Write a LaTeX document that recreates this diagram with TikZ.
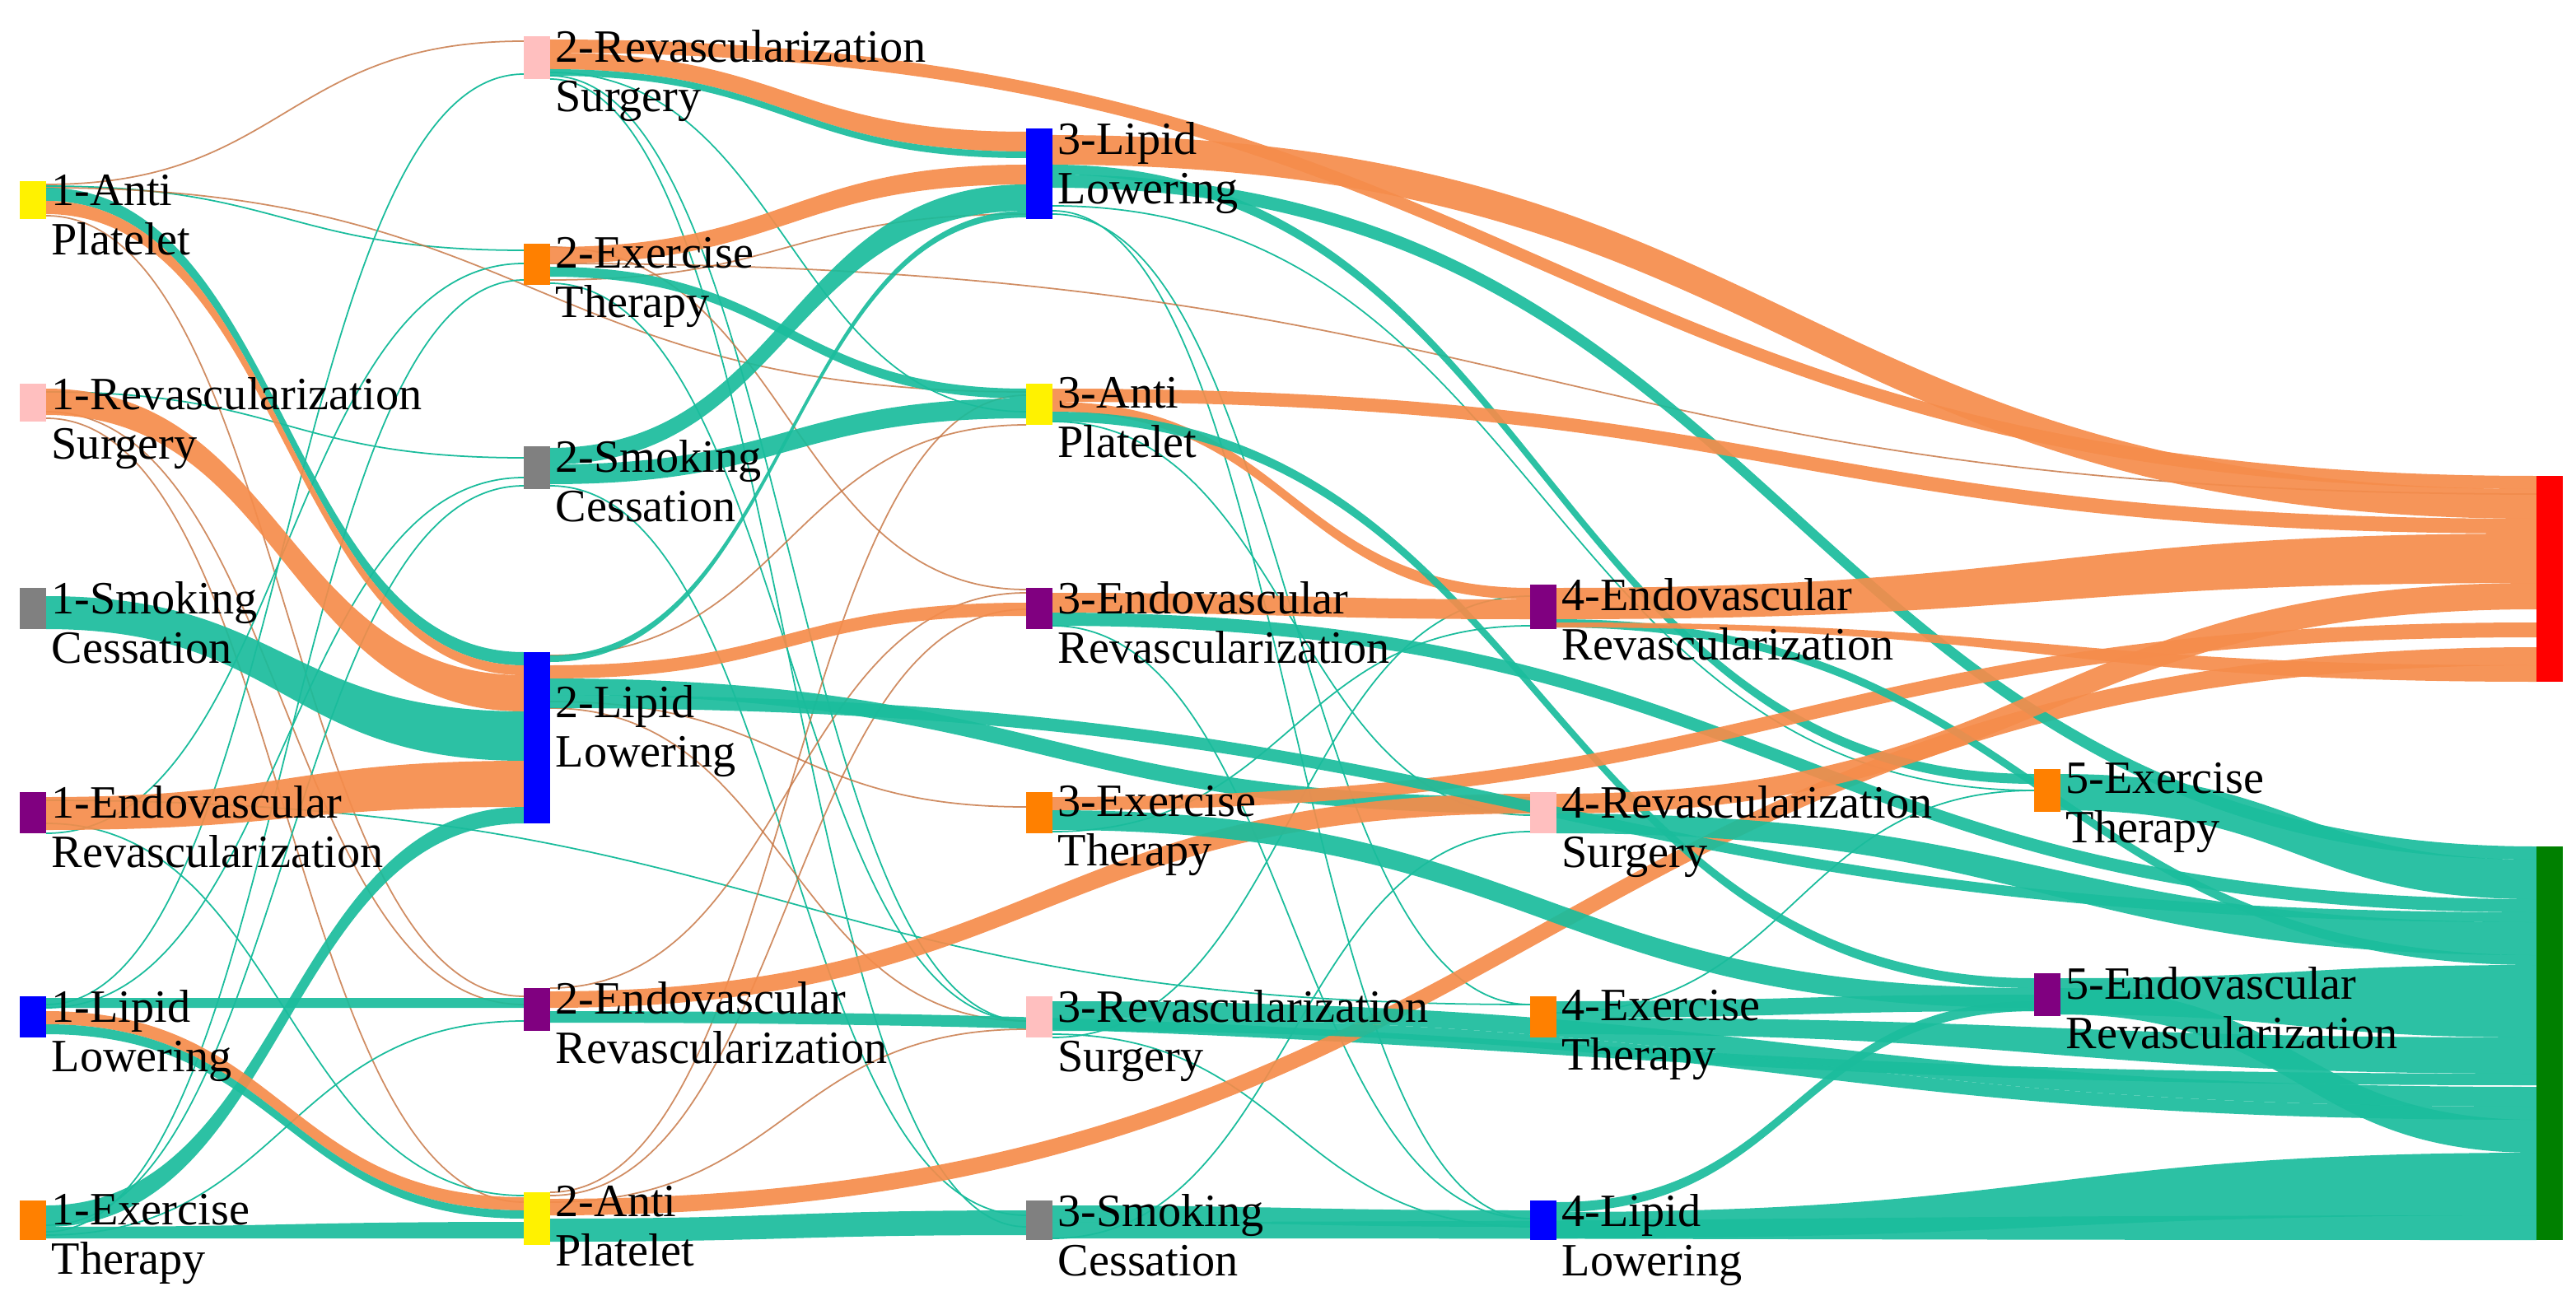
\documentclass[tikz,border=0pt]{standalone}
\usepackage{fontspec}
\setmainfont{Liberation Serif}
\begin{document}
\begin{tikzpicture}[x=0.02cm,y=-0.02cm]
\definecolor{orf}{RGB}{245,140,75}
\definecolor{tef}{RGB}{26,188,156}
\definecolor{grn}{RGB}{0,128,0}
\definecolor{pur}{RGB}{128,0,128}
\tikzset{box/.style={inner sep=0pt,outer sep=0pt,minimum width=0.32cm,anchor=north},
 lbl/.style={anchor=north west,align=left,inner sep=0pt,font=\fontsize{16}{17}\selectfont},
 of/.style={fill=orf,opacity=0.92}, tf/.style={fill=tef,opacity=0.92},
 ol/.style={draw=orf!80!black,line width=0.5pt,opacity=0.8}, tl/.style={draw=tef,line width=0.5pt}}
\newcommand\fl[7]{\pgfmathsetmacro\mx{(#1+#4)/2}\fill[#7] (#1,#2) .. controls (\mx,#2) and (\mx,#5) .. (#4,#5) -- (#4,#6) .. controls (\mx,#6) and (\mx,#3) .. (#1,#3) -- cycle;}
\newcommand\thinln[5]{\pgfmathsetmacro\mx{(#1+#3)/2}\draw[#5] (#1,#2) .. controls (\mx,#2) and (\mx,#4) .. (#3,#4);}
\newcommand\nd[5]{\node[box,fill=#5,minimum height={(#4-#3)*0.02cm}] (#1) at (#2,#3) {};}
\useasboundingbox (0,0) rectangle (1564,787);
% thin lines
\thinln{28}{112}{318}{25}{ol}
\thinln{28}{113}{318}{152}{tl}
\thinln{28}{114}{623}{238}{ol}
\thinln{28}{131}{318}{605}{ol}
\thinln{28}{238}{318}{278}{tl}
\thinln{28}{250}{318}{610}{ol}
\thinln{28}{254}{318}{730}{ol}
\thinln{28}{506}{318}{160}{tl}
\thinln{28}{500}{318}{726}{tl}
\thinln{28}{612}{318}{290}{tl}
\thinln{28}{610}{318}{45}{tl}
\thinln{28}{750}{318}{620}{tl}
\thinln{28}{748}{318}{170}{tl}
\thinln{28}{744}{318}{295}{tl}
\thinln{28}{486}{929}{610}{tl}
\thinln{334}{44}{623}{250}{tl}
\thinln{334}{46}{623}{620}{tl}
\thinln{334}{48}{623}{745}{tl}
\thinln{334}{170}{623}{130}{ol}
\thinln{334}{172}{623}{620}{tl}
\thinln{334}{295}{623}{738}{tl}
\thinln{334}{426}{623}{490}{ol}
\thinln{334}{430}{623}{620}{ol}
\thinln{334}{398}{623}{258}{ol}
\thinln{334}{600}{623}{360}{ol}
\thinln{334}{724}{623}{240}{ol}
\thinln{334}{726}{623}{370}{ol}
\thinln{334}{730}{623}{625}{ol}
\thinln{334}{150}{623}{358}{ol}
\thinln{639}{130}{929}{610}{tl}
\thinln{639}{128}{929}{740}{tl}
\thinln{639}{125}{1235}{480}{tl}
\thinln{639}{256}{929}{495}{tl}
\thinln{639}{505}{929}{380}{tl}
\thinln{639}{630}{929}{362}{tl}
\thinln{639}{628}{929}{745}{tl}
\thinln{639}{752}{929}{505}{tl}
\thinln{639}{380}{929}{740}{tl}
\thinln{334}{160}{1540}{300}{ol}
\thinln{945}{615}{1235}{480}{tl}
% column 1 flows
\fl{28}{114}{122}{318}{396}{404}{tf}
\fl{28}{122}{130}{318}{404}{410}{of}
\fl{28}{236}{252}{318}{410}{432}{of}
\fl{28}{362}{382}{318}{432}{462}{tf}
\fl{28}{484}{504}{318}{462}{490}{of}
\fl{28}{732}{745}{318}{490}{500}{tf}
\fl{28}{606}{612}{318}{606}{612}{tf}
\fl{28}{614}{622}{318}{727}{735}{of}
\fl{28}{622}{628}{318}{735}{740}{tf}
\fl{28}{745}{752}{318}{742}{752}{tf}
% column 2 flows
\fl{334}{24}{32}{1540}{289}{297}{of}
\fl{334}{32}{42}{623}{80}{92}{of}
\fl{334}{42}{46}{623}{92}{96}{tf}
\fl{334}{150}{160}{623}{100}{112}{of}
\fl{334}{162}{168}{623}{236}{242}{tf}
\fl{334}{272}{282}{623}{112}{128}{tf}
\fl{334}{282}{294}{623}{242}{254}{tf}
\fl{334}{398}{402}{623}{128}{132}{tf}
\fl{334}{404}{412}{623}{366}{374}{of}
\fl{334}{412}{422}{929}{484}{494}{tf}
\fl{334}{602}{612}{929}{482}{494}{of}
\fl{334}{614}{621}{1540}{652}{659}{tf}
\fl{334}{728}{738}{1540}{393}{404}{of}
\fl{334}{740}{754}{623}{735}{750}{tf}
% column 3 flows
\fl{639}{82}{100}{1540}{297}{315}{of}
\fl{639}{100}{106}{1235}{470}{476}{tf}
\fl{639}{106}{114}{1540}{514}{522}{tf}
\fl{639}{236}{244}{1540}{315}{324}{of}
\fl{639}{244}{250}{929}{357}{364}{of}
\fl{639}{250}{256}{1235}{594}{600}{tf}
\fl{639}{360}{372}{929}{364}{376}{of}
\fl{639}{372}{380}{1540}{546}{554}{tf}
\fl{639}{484}{492}{1540}{378}{387}{of}
\fl{639}{492}{504}{1235}{600}{612}{tf}
\fl{639}{608}{618}{1540}{660}{672}{tf}
\fl{639}{618}{626}{1540}{672}{680}{tf}
\fl{639}{732}{742}{929}{735}{745}{tf}
\fl{639}{742}{752}{1540}{738}{753}{tf}
% column 4 flows
\fl{945}{357}{376}{1540}{324}{354}{of}
\fl{945}{376}{381}{1540}{580}{586}{tf}
\fl{945}{482}{494}{1540}{354}{370}{of}
\fl{945}{494}{506}{1540}{560}{580}{tf}
\fl{945}{608}{618}{1235}{604}{614}{tf}
\fl{945}{618}{628}{1540}{630}{652}{tf}
\fl{945}{730}{736}{1235}{608}{614}{tf}
\fl{945}{736}{752}{1540}{700}{738}{tf}
\fl{945}{378}{381}{1540}{404}{414}{of}
% column 5 flows
\fl{1251}{470}{492}{1540}{522}{546}{tf}
\fl{1251}{594}{616}{1540}{586}{630}{tf}
\fl{1251}{600}{616}{1540}{680}{700}{tf}
\fl{334}{422}{430}{1540}{554}{560}{tf}
% nodes
\nd{a1}{20}{110}{133}{yellow}
\nd{a2}{20}{233}{256}{pink}
\nd{a3}{20}{357}{382}{gray}
\nd{a4}{20}{481}{506}{pur}
\nd{a5}{20}{605}{630}{blue}
\nd{a6}{20}{729}{753}{orange}
\nd{b1}{326}{22}{48}{pink}
\nd{b2}{326}{148}{173}{orange}
\nd{b3}{326}{271}{297}{gray}
\nd{b4}{326}{396}{500}{blue}
\nd{b5}{326}{600}{626}{pur}
\nd{b6}{326}{724}{756}{yellow}
\nd{c1}{631}{78}{133}{blue}
\nd{c2}{631}{233}{258}{yellow}
\nd{c3}{631}{357}{382}{pur}
\nd{c4}{631}{481}{506}{orange}
\nd{c5}{631}{605}{630}{pink}
\nd{c6}{631}{729}{753}{gray}
\nd{d1}{937}{355}{382}{pur}
\nd{d2}{937}{481}{506}{pink}
\nd{d3}{937}{605}{630}{orange}
\nd{d4}{937}{729}{753}{blue}
\nd{e1}{1243}{467}{493}{orange}
\nd{e2}{1243}{591}{617}{pur}
\nd{f1}{1548}{289}{414}{red}
\nd{f2}{1548}{514}{753}{grn}
% labels
\newcommand\lb[2]{\node[lbl] at ([xshift=0.06cm,yshift=0.08cm]#1.north east) {#2};}
\lb{a1}{1-Anti\\Platelet}
\lb{a2}{1-Revascularization\\Surgery}
\lb{a3}{1-Smoking\\Cessation}
\lb{a4}{1-Endovascular\\Revascularization}
\lb{a5}{1-Lipid\\Lowering}
\lb{a6}{1-Exercise\\Therapy}
\lb{b1}{2-Revascularization\\Surgery}
\lb{b2}{2-Exercise\\Therapy}
\lb{b3}{2-Smoking\\Cessation}
\node[lbl] at ([xshift=0.06cm,yshift=-0.4cm]b4.north east) {2-Lipid\\Lowering};
\lb{b5}{2-Endovascular\\Revascularization}
\lb{b6}{2-Anti\\Platelet}
\lb{c1}{3-Lipid\\Lowering}
\lb{c2}{3-Anti\\Platelet}
\lb{c3}{3-Endovascular\\Revascularization}
\lb{c4}{3-Exercise\\Therapy}
\lb{c5}{3-Revascularization\\Surgery}
\lb{c6}{3-Smoking\\Cessation}
\lb{d1}{4-Endovascular\\Revascularization}
\lb{d2}{4-Revascularization\\Surgery}
\lb{d3}{4-Exercise\\Therapy}
\lb{d4}{4-Lipid\\Lowering}
\lb{e1}{5-Exercise\\Therapy}
\lb{e2}{5-Endovascular\\Revascularization}
\end{tikzpicture}
\end{document}
